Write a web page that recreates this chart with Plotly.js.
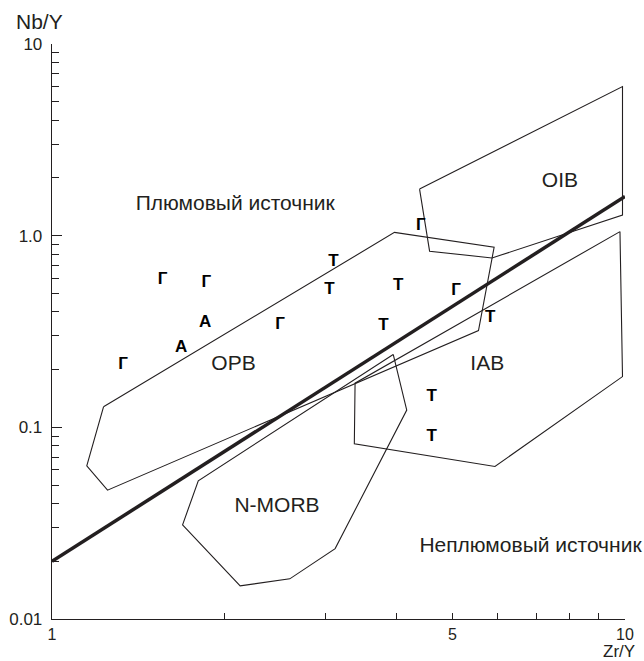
<!DOCTYPE html>
<html>
<head>
<meta charset="utf-8">
<script src="https://cdn.plot.ly/plotly-3.0.1.min.js"></script>
<style>html,body{margin:0;padding:0;background:#fff;}#chart{width:644px;height:661px;}</style>
</head>
<body>
<div id="chart"></div>
<script>
// Field polygons (Zr/Y, Nb/Y)
const oibX = [4.38, 9.9, 9.9, 5.86, 4.56];
const oibY = [1.75, 6.0, 1.28, 0.765, 0.83];
const opbX = [1.23, 3.96, 5.91, 5.55, 1.25, 1.15];
const opbY = [0.128, 1.04, 0.87, 0.32, 0.047, 0.063];
const iabX = [9.8, 3.38, 3.37, 5.93, 9.9];
const iabY = [1.05, 0.17, 0.082, 0.0625, 0.184];
const nmorbX = [3.94, 4.16, 3.12, 2.6, 2.13, 1.69, 1.8];
const nmorbY = [0.24, 0.123, 0.0233, 0.0162, 0.0149, 0.031, 0.0526];

// Dividing line
const lineX = [1, 10];
const lineY = [0.02, 1.6];

// Samples
const gX = [1.33, 1.56, 1.86, 2.5, 5.07, 4.4];
const gY = [0.212, 0.587, 0.565, 0.342, 0.517, 1.12];
const aX = [1.85, 1.68];
const aY = [0.352, 0.261];
const tX = [3.1, 3.05, 4.02, 3.79, 5.82, 4.6, 4.6];
const tY = [0.732, 0.521, 0.547, 0.338, 0.371, 0.145, 0.0895];

// Field labels
const labelText = ['OIB', 'OPB', 'IAB', 'N-MORB', 'Плюмовый источник', 'Неплюмовый источник'];
const labelX = [7.70, 2.074, 5.75, 2.47, 2.088, 6.84];
const labelY = [1.91, 0.212, 0.212, 0.0384, 1.445, 0.0239];

// Axis ticks
const yTickVals = [0.01, 0.1, 1, 10];
const yTickText = ['0.01', '0.1', '1.0', '10'];
const xTickVals = [1, 5, 10];
const xTickText = ['1', '5', '10'];
const yMinor = [];
[0.01, 0.1, 1].forEach(d => { for (let k = 2; k <= 9; k++) yMinor.push(+(d * k).toPrecision(3)); });
const xMinor = [2, 3, 4, 6, 7, 8, 9];

const INK = '#231f20';
const FONT = 'Liberation Sans, Arial, sans-serif';
const close = a => a.concat([a[0]]);

function poly(x, y) {
  return {x: close(x), y: close(y), mode: 'lines', type: 'scatter',
          line: {color: INK, width: 1.1}, hoverinfo: 'skip', showlegend: false};
}
function sym(x, y, ch) {
  return {x: x, y: y, mode: 'text', type: 'scatter', text: x.map(() => '<b>' + ch + '</b>'),
          textposition: 'middle center', textfont: {family: FONT, size: 17, color: '#000'},
          cliponaxis: false, showlegend: false, hoverinfo: 'skip'};
}

const traces = [
  poly(oibX, oibY), poly(opbX, opbY), poly(iabX, iabY), poly(nmorbX, nmorbY),
  {x: lineX, y: lineY, mode: 'lines', type: 'scatter', line: {color: INK, width: 3.5},
   showlegend: false, hoverinfo: 'skip'},
  sym(gX, gY, 'Г'), sym(aX, aY, 'А'), sym(tX, tY, 'Т'),
  {x: labelX, y: labelY, text: labelText, mode: 'text', type: 'scatter',
   textposition: 'middle center', textfont: {family: FONT, size: 21, color: INK},
   cliponaxis: false, showlegend: false, hoverinfo: 'skip'}
];

const layout = {
  width: 644, height: 661,
  margin: {l: 52, r: 19, t: 44, b: 42},
  paper_bgcolor: '#fff', plot_bgcolor: '#fff',
  font: {family: FONT, color: INK},
  showlegend: false,
  xaxis: {
    type: 'log', range: [0, 1], showgrid: false, zeroline: false,
    showline: true, linecolor: INK, linewidth: 1.3,
    tickmode: 'array', tickvals: xTickVals, ticktext: xTickText,
    ticks: 'inside', ticklen: 6, tickcolor: INK, tickwidth: 1,
    tickfont: {size: 16, family: FONT, color: INK},
    minor: {tickmode: 'array', tickvals: xMinor, ticks: 'inside', ticklen: 6, tickcolor: INK, showgrid: false}
  },
  yaxis: {
    type: 'log', range: [-2, 1], showgrid: false, zeroline: false,
    showline: true, linecolor: INK, linewidth: 1.3,
    tickmode: 'array', tickvals: yTickVals, ticktext: yTickText,
    ticks: 'inside', ticklen: 10, tickcolor: INK, tickwidth: 1,
    ticklabelstandoff: 5,
    tickfont: {size: 17, family: FONT, color: INK},
    minor: {tickmode: 'array', tickvals: yMinor, ticks: 'inside', ticklen: 7, tickcolor: INK, showgrid: false}
  },
  annotations: [
    {text: 'Nb/Y', xref: 'paper', yref: 'paper', x: 0, y: 1, xanchor: 'center', yanchor: 'bottom',
     xshift: -13, yshift: 9, showarrow: false, font: {size: 21, family: FONT, color: INK}},
    {text: 'Zr/Y', xref: 'paper', yref: 'paper', x: 1, y: 0, xanchor: 'center', yanchor: 'top',
     xshift: -6, yshift: -22, borderpad: 0, showarrow: false, font: {size: 17, family: FONT, color: INK}}
  ]
};

Plotly.newPlot('chart', traces, layout, {displayModeBar: false, staticPlot: true});
</script>
</body>
</html>
